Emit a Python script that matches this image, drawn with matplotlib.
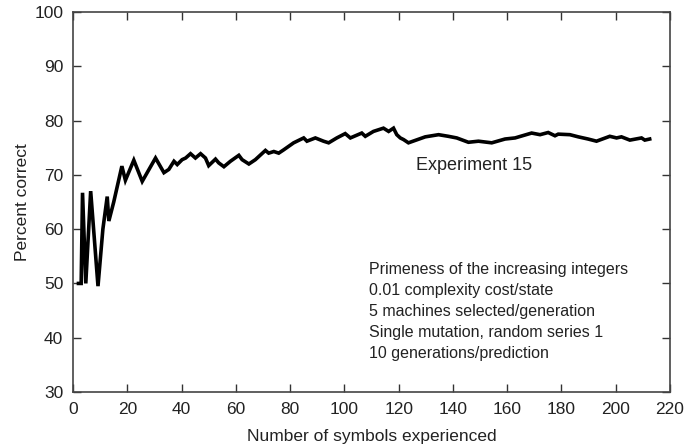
import matplotlib.pyplot as plt

plt.rcParams['font.family'] = ['Liberation Sans', 'DejaVu Sans']

# Curva
symbols = [2, 3, 3.5, 4.7, 6.5, 9.2, 11, 12.6, 13.2, 15, 18, 19.3, 22.4, 25.5,
           28, 30.4, 33.5, 35.3, 37.2, 38.4, 40.2, 41.5, 43.3, 45.1, 47, 48.8,
           50, 52.5, 53.7, 55.6, 58, 61.1, 62.3, 64.8, 67.2, 70.9, 72.1, 74,
           75.8, 77.6, 81.3, 85, 86.2, 89.3, 92.3, 94.2, 97.2, 100.3, 102.2,
           106.4, 107.7, 110.7, 114.4, 116.3, 118.1, 119.3, 120.6, 121.8,
           123.6, 129.8, 134.7, 138.3, 141.4, 145.7, 149.4, 154.3, 159.2,
           162.9, 169, 172.1, 175.1, 177.6, 178.8, 183.1, 186.2, 189.8, 192.9,
           197.8, 200.3, 202.1, 205.2, 209.5, 210.7, 212.5]
percent = [50, 50, 66.7, 50, 67, 49.5, 60, 66, 61.5, 65, 71.6, 69, 72.7, 68.8,
           71, 73.1, 70.4, 71.0, 72.5, 71.9, 72.8, 73.1, 73.9, 73.1, 73.9, 73.1,
           71.7, 72.9, 72.2, 71.5, 72.5, 73.6, 72.8, 72.0, 72.8, 74.5, 74.0, 74.3,
           74.0, 74.6, 75.9, 76.8, 76.2, 76.8, 76.2, 75.9, 76.8, 77.6, 76.8,
           77.7, 77.1, 78.0, 78.6, 78.0, 78.6, 77.4, 76.8, 76.5,
           75.9, 77.0, 77.4, 77.1, 76.8, 76.0, 76.2, 75.9, 76.6,
           76.8, 77.7, 77.4, 77.8, 77.2, 77.5, 77.4, 77.0, 76.6, 76.2,
           77.1, 76.8, 77.0, 76.4, 76.8, 76.4, 76.6]

info_lines = ["Primeness of the increasing integers",
              "0.01 complexity cost/state",
              "5 machines selected/generation",
              "Single mutation, random series 1",
              "10 generations/prediction"]

fig = plt.figure(figsize=(6.87, 4.47), dpi=100)
ax = fig.add_axes([0.1063, 0.123, 0.8690, 0.8502])

ax.plot(symbols, percent, color="black", linewidth=2.6, solid_joinstyle="miter")

ax.set_xlim(0, 220)
ax.set_ylim(30, 100)
ax.set_xticks(range(0, 221, 20))
ax.set_yticks(range(30, 101, 10))
ax.tick_params(direction="in", length=6, width=1, top=True, right=True,
               labelsize=12.5, colors="#333333", labelcolor="#222222", pad=7)
for s in ax.spines.values():
    s.set_color("#444444")
    s.set_linewidth(1.2)

ax.set_xlabel("Number of symbols experienced", fontsize=12.5, color="#222222", labelpad=9)
ax.set_ylabel("Percent correct", fontsize=12.5, color="#222222", labelpad=3)

ax.text(126.5, 71.8, "Experiment 15", fontsize=13, color="#222222", va="center")
ax.text(109, 54.0, "\n".join(info_lines), fontsize=11.5, color="#222222",
        va="top", ha="left", linespacing=1.5)

fig.savefig("out.png", dpi=100)
